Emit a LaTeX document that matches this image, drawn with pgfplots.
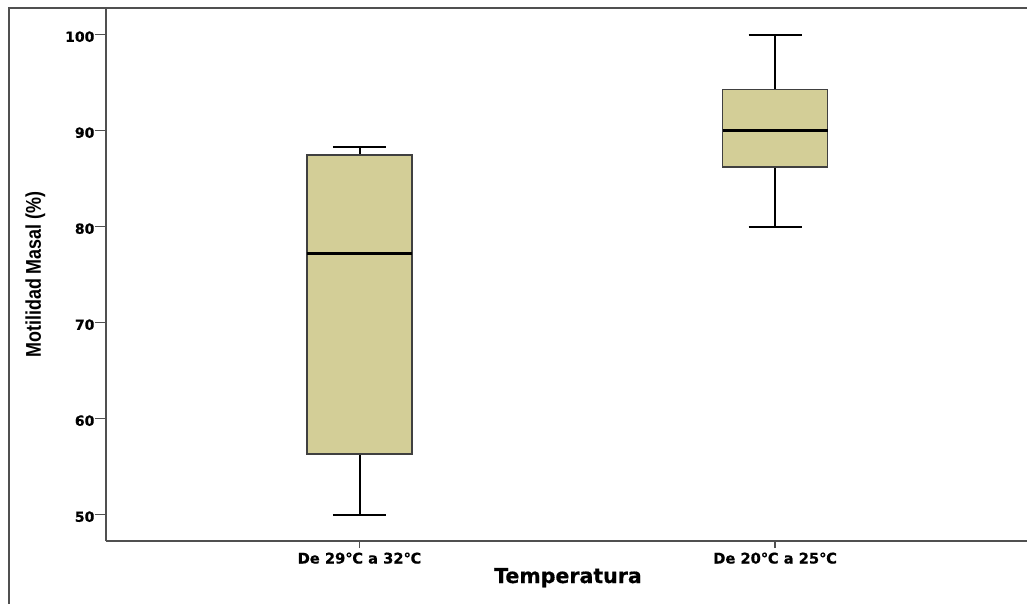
\documentclass[border=0pt]{standalone}
\usepackage{fontspec}
\setmainfont{DejaVu Sans}
\newfontfamily\heavyfont{DejaVu Sans Bold}[FakeBold=0.6]
\newfontfamily\narrowfont{Liberation Sans Bold}[FakeStretch=0.84]
\usepackage{pgfplots}
\pgfplotsset{compat=1.18}
\definecolor{boxfill}{RGB}{211,206,151}
\definecolor{axisgray}{RGB}{80,80,80}
\begin{document}
\begin{tikzpicture}
\path[use as bounding box] (0,0) rectangle (770.25pt,452.25pt);
\draw[axisgray, line width=1.5pt] (7.1pt,-1pt) -- (7.1pt,446.25pt) -- (772pt,446.25pt);
\begin{axis}[
  at={(79.5pt,46.5pt)}, anchor=south west,
  scale only axis, width=692.25pt, height=399.75pt,
  xmin=-0.610, xmax=1.611, ymin=47.26, ymax=102.78,
  axis x line=bottom, axis y line=left,
  axis line style={axisgray, line width=1.5pt, -},
  xtick={0,1}, xticklabels={De 29℃ a 32℃, De 20℃ a 25℃},
  ytick={50,60,70,80,90,100},
  minor tick num=0,
  tick align=outside,
  major tick length=7pt,
  tick style={axisgray, line width=1.2pt},
  xtick style={/pgfplots/major tick length=5.25pt},
  ytick style={/pgfplots/major tick length=8.25pt},
  /pgf/number format/assume math mode=true,
  yticklabel style={font=\fontsize{10.5}{12}\selectfont\heavyfont, inner sep=1.5pt, yshift=-1.5pt},
  xticklabel style={font=\fontsize{11}{13}\selectfont\heavyfont, anchor=base, yshift=-9.9pt},
  xlabel={Temperatura},
  xlabel style={font=\fontsize{15.4}{18}\selectfont\heavyfont, at={(axis description cs:0.5005,-0.0788)}, anchor=base},
  ylabel={\narrowfont\fontsize{16}{19}\selectfont Motilidad Masal (\%)},
  ylabel style={at={(axis description cs:-0.0764,0.5)}, anchor=center},
  whisk/.style={black, line width=1.5pt, forget plot},
  med/.style={black, line width=2.4pt, forget plot},
  bx/.style={draw=axisgray!80!black, fill=boxfill, line width=1.3pt, forget plot},
]
% Box 1: De 29C a 32C  (lw=50, q1=56.3, med=77.2, q3=87.5, uw=88.3)
\addplot[whisk] coordinates {(0,50) (0,56.3)};
\addplot[whisk] coordinates {(0,87.5) (0,88.3)};
\addplot[whisk] coordinates {(-0.0638,50) (0.0638,50)};
\addplot[whisk] coordinates {(-0.0638,88.3) (0.0638,88.3)};
\addplot[bx] coordinates {(-0.1264,56.3) (0.1264,56.3) (0.1264,87.5) (-0.1264,87.5)} -- cycle;
\addplot[med] coordinates {(-0.1264,77.2) (0.1264,77.2)};
% Box 2: De 20C a 25C  (lw=80, q1=86.25, med=90, q3=94.3, uw=100)
\addplot[whisk] coordinates {(1,80) (1,86.25)};
\addplot[whisk] coordinates {(1,94.3) (1,100)};
\addplot[whisk] coordinates {(0.9362,80) (1.0638,80)};
\addplot[whisk] coordinates {(0.9362,100) (1.0638,100)};
\addplot[bx] coordinates {(0.8736,86.25) (1.1264,86.25) (1.1264,94.3) (0.8736,94.3)} -- cycle;
\addplot[med] coordinates {(0.8736,90) (1.1264,90)};
\end{axis}
\end{tikzpicture}
\end{document}
